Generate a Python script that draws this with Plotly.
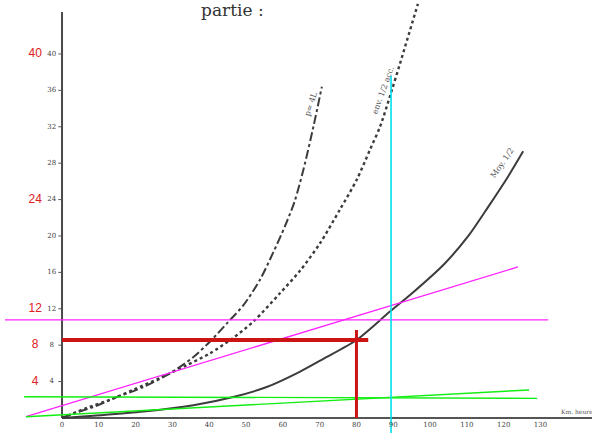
import plotly.graph_objects as go

# ---- data ----
solid_x = [0, 8.5, 22.1, 35.7, 46.5, 55.6, 64.7, 71.0, 80.1, 89.1, 94.8, 103.8, 110.4, 115.8, 121.3, 125.3]
solid_y = [0, 0.25, 0.7, 1.4, 2.3, 3.4, 5.1, 6.5, 8.6, 11.7, 13.6, 16.9, 20.0, 23.2, 26.6, 29.3]

dotted_x = [0, 6.7, 13.0, 19.4, 26.6, 33.9, 40.2, 46.5, 52.0, 59.2, 64.7, 70.1, 75.5, 80.1, 83.7, 86.4, 89.6, 91.8, 96.7]
dotted_y = [0, 1.1, 2.0, 3.1, 4.4, 5.8, 7.1, 8.8, 10.6, 13.7, 16.2, 19.2, 22.9, 26.2, 29.5, 32.0, 36.0, 38.9, 45.5]

dashdot_x = [0, 3.1, 8.5, 14.9, 22.1, 29.3, 35.7, 40.7, 44.8, 49.3, 53.8, 57.4, 60.5, 63.2, 65.6, 68.3, 70.6]
dashdot_y = [0, 0.5, 1.2, 2.3, 3.4, 4.9, 6.7, 8.6, 10.4, 12.4, 15.2, 18.2, 21.0, 23.8, 27.3, 32.0, 36.4]

y_ticks = [4, 8, 12, 16, 20, 24, 28, 32, 36, 40]
y_tick_labels = ["4", "8", "12", "16", "20", "24", "28", "32", "36", "40"]
red_y_ticks = [4, 8, 12, 24, 40]
red_y_labels = ["4", "8", "12", "24", "40"]
x_ticks = [0, 10, 20, 30, 40, 50, 60, 70, 80, 90, 100, 110, 120, 130]
x_tick_labels = [str(v) for v in x_ticks]

magenta_h_y = 10.77
magenta_h_x = [-15.5, 132.1]
magenta_diag_x = [-9.8, 123.9]
magenta_diag_y = [0.14, 16.6]
green_h_x = [-10.3, 129.1]
green_h_y = [2.34, 2.16]
green_diag_x = [-9.8, 126.9]
green_diag_y = [0.14, 3.08]
red_h_y = 8.57
red_h_x = [0, 83.2]
red_v_x = 80
red_v_y = [0, 9.67]
cyan_v_x = 89.4
cyan_v_y = [-2.0, 37.6]

X_RANGE = [-16.85, 144.0]
Y_RANGE = [-1.65, 45.93]

fig = go.Figure()

# axes
fig.add_trace(go.Scatter(x=[0, 0], y=[0, 44.6], mode="lines",
                         line=dict(color="#4a4a4a", width=2), hoverinfo="skip"))
fig.add_trace(go.Scatter(x=[0, 144], y=[0, 0], mode="lines",
                         line=dict(color="#555555", width=2), hoverinfo="skip"))

# curves
fig.add_trace(go.Scatter(x=dashdot_x, y=dashdot_y, mode="lines", line_shape="spline",
                         line=dict(color="#3c3c3c", width=2, dash="dashdot", smoothing=0.8),
                         hoverinfo="skip"))
fig.add_trace(go.Scatter(x=dotted_x, y=dotted_y, mode="lines", line_shape="spline",
                         line=dict(color="#3c3c3c", width=2.4, dash="dot", smoothing=0.8),
                         hoverinfo="skip"))
fig.add_trace(go.Scatter(x=solid_x, y=solid_y, mode="lines", line_shape="spline",
                         line=dict(color="#3c3c3c", width=2, smoothing=0.8), hoverinfo="skip"))

# coloured construction lines
fig.add_trace(go.Scatter(x=magenta_h_x, y=[magenta_h_y, magenta_h_y], mode="lines",
                         line=dict(color="#ff22ff", width=1.3), hoverinfo="skip"))
fig.add_trace(go.Scatter(x=magenta_diag_x, y=magenta_diag_y, mode="lines",
                         line=dict(color="#ff22ff", width=1.3), hoverinfo="skip"))
fig.add_trace(go.Scatter(x=green_h_x, y=green_h_y, mode="lines",
                         line=dict(color="#11ee11", width=1.4), hoverinfo="skip"))
fig.add_trace(go.Scatter(x=green_diag_x, y=green_diag_y, mode="lines",
                         line=dict(color="#11ee11", width=1.4), hoverinfo="skip"))
fig.add_trace(go.Scatter(x=red_h_x, y=[red_h_y, red_h_y], mode="lines",
                         line=dict(color="#cc1414", width=4), hoverinfo="skip"))
fig.add_trace(go.Scatter(x=[red_v_x, red_v_x], y=red_v_y, mode="lines",
                         line=dict(color="#cc1414", width=3), hoverinfo="skip"))
fig.add_trace(go.Scatter(x=[cyan_v_x, cyan_v_x], y=cyan_v_y, mode="lines", cliponaxis=False,
                         line=dict(color="#00e0f0", width=1.6), hoverinfo="skip"))

# original (scanned) tick labels
fig.add_trace(go.Scatter(x=[-2.8] * len(y_ticks), y=y_ticks, mode="text", text=y_tick_labels,
                         textfont=dict(family="DejaVu Serif", size=7, color="#444444"),
                         hoverinfo="skip"))
fig.add_trace(go.Scatter(x=x_ticks, y=[-0.8] * len(x_ticks), mode="text", text=x_tick_labels,
                         textfont=dict(family="DejaVu Serif", size=7, color="#444444"),
                         hoverinfo="skip"))
# tick marks
for v in y_ticks:
    fig.add_shape(type="line", x0=-1.0, x1=0, y0=v, y1=v, line=dict(color="#555555", width=1))

# red annotations
fig.add_trace(go.Scatter(x=[-7.3] * len(red_y_ticks), y=red_y_ticks, mode="text", text=red_y_labels,
                         textfont=dict(family="Liberation Sans", size=12, color="#e02020"),
                         hoverinfo="skip"))

# handwritten curve labels and axis note
fig.add_annotation(x=67.5, y=34.5, text="p= 4L", showarrow=False, textangle=-72,
                   font=dict(family="DejaVu Serif", size=8, color="#555555"))
fig.add_annotation(x=87.2, y=36.0, text="env. 1/2 acc.", showarrow=False, textangle=-70,
                   font=dict(family="DejaVu Serif", size=8, color="#555555"))
fig.add_annotation(x=119.5, y=28.0, text="Moy. 1/2", showarrow=False, textangle=-55,
                   font=dict(family="DejaVu Serif", size=8, color="#555555"))
fig.add_annotation(x=140.0, y=0.7, text="Km. heure", showarrow=False,
                   font=dict(family="DejaVu Serif", size=6, color="#555555"))
fig.add_annotation(x=46.2, xref="x", y=1.0, yref="paper", yanchor="top", yshift=1,
                   text="partie :", showarrow=False, borderpad=0,
                   font=dict(family="DejaVu Serif", size=17, color="#333333"))

fig.update_layout(
    width=592, height=433,
    margin=dict(l=0, r=0, t=0, b=0),
    paper_bgcolor="white", plot_bgcolor="white",
    showlegend=False,
    xaxis=dict(range=X_RANGE, visible=False, fixedrange=True),
    yaxis=dict(range=Y_RANGE, visible=False, fixedrange=True),
)

fig.write_html("out.html", config={"displayModeBar": False, "staticPlot": True})

# remove the browser's default body margin so the figure sits at the page corner
with open("out.html", "r", encoding="utf-8") as f:
    html = f.read()
html = html.replace("<body>", '<body style="margin:0;overflow:hidden">', 1)
with open("out.html", "w", encoding="utf-8") as f:
    f.write(html)
